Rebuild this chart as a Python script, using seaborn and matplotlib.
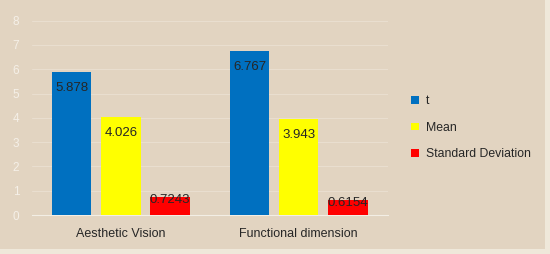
import matplotlib
matplotlib.use('Agg')
import matplotlib.pyplot as plt
from matplotlib.patches import Rectangle
import pandas as pd
import seaborn as sns

# values
categories = ["Aesthetic Vision", "Functional dimension"]
series = ["t", "Mean", "Standard Deviation"]
t_values = [5.878, 6.767]
mean_values = [4.026, 3.943]
sd_values = [0.7243, 0.6154]
labels_text = {"t": ["5.878", "6.767"], "Mean": ["4.026", "3.943"],
               "Standard Deviation": ["0.7243", "0.6154"]}
colors = ["#0070C0", "#FFFF00", "#FF0000"]
y_ticks = [0, 1, 2, 3, 4, 5, 6, 7, 8]

BG = "#E2D4C1"

df = pd.DataFrame({
    "category": categories * 3,
    "series": [s for s in series for _ in categories],
    "value": t_values + mean_values + sd_values,
})

sns.set_theme(style="white")
plt.rcParams['font.family'] = ['Liberation Sans', 'DejaVu Sans']

fig = plt.figure(figsize=(5.5, 2.54), dpi=100, facecolor="#EFE8DA")
fig.patches.append(Rectangle((0, 5 / 254), 545 / 550, 1, transform=fig.transFigure,
                             facecolor=BG, edgecolor="none", zorder=-10))
ax = fig.add_axes([0.058, 0.1535, 0.647, 0.765])
ax.set_facecolor(BG)

sns.barplot(data=df, x="category", y="value", hue="series", hue_order=series,
            palette=colors, saturation=1, width=0.83, gap=0.2, ax=ax,
            legend=True, zorder=3, edgecolor="none")

# value labels near the top inside each bar
for cont, s in zip(ax.containers, series):
    for bar, txt in zip(cont, labels_text[s]):
        h = bar.get_height()
        off = -11.5 if h > 1.5 else -2
        ax.annotate(txt, (bar.get_x() + bar.get_width() / 2, h),
                    xytext=(0, off), textcoords="offset points",
                    ha="center", va="center", fontsize=9.5, color="#262626", zorder=4)

ax.set_ylim(0, 8)
ax.set_xlim(-0.5, 1.5)
ax.set_yticks(y_ticks)
ax.yaxis.grid(True, color="#E9DECF", lw=0.8, zorder=0)
ax.set_axisbelow(True)
ax.tick_params(axis="y", length=0, labelsize=8.5, labelcolor="#F5F0E8", pad=9)
ax.tick_params(axis="x", length=0, labelsize=9, labelcolor="#262626", pad=9)
ax.set_xticks([-0.5, 0.5, 1.5], minor=True)
ax.tick_params(axis="x", which="minor", length=4, color="#F3EEE5", width=0.8)
ax.set_xlabel("")
ax.set_ylabel("")
for side in ["top", "right", "left"]:
    ax.spines[side].set_visible(False)
ax.spines["bottom"].set_color("#F3EEE5")
ax.spines["bottom"].set_linewidth(0.8)

handles, labels = ax.get_legend_handles_labels()
ax.legend_.remove()
for h in handles:
    h.set_edgecolor("none")
fig.legend(handles, labels, loc="center left", bbox_to_anchor=(0.728, 0.497),
           frameon=False, fontsize=8.8, handlelength=0.6, handleheight=0.6,
           handletextpad=0.6, labelspacing=1.2, labelcolor="#262626")

fig.savefig("out.png", dpi=100, facecolor=fig.get_facecolor())
